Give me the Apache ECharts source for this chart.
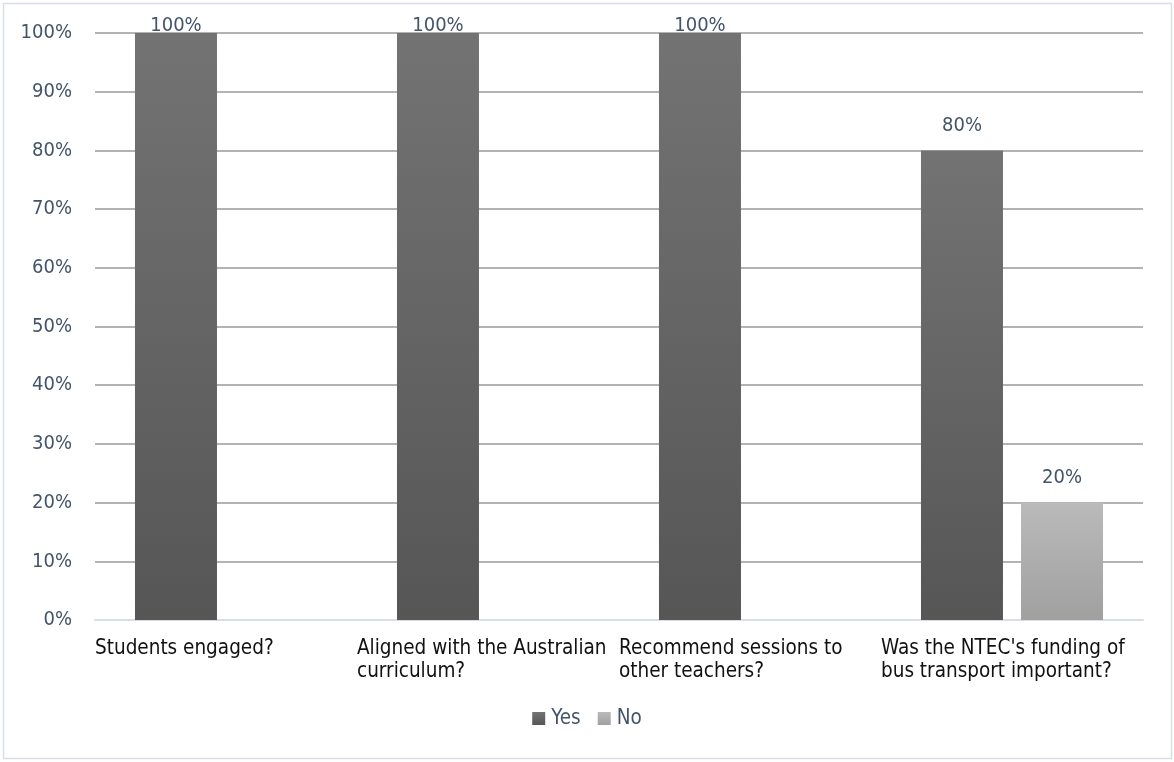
<!DOCTYPE html>
<html>
<head>
<meta charset="utf-8">
<script src="https://cdn.jsdelivr.net/npm/echarts@6/dist/echarts.min.js"></script>
<style>
html,body{margin:0;padding:0;background:#fff;}
#chart{width:1174px;height:762px;}
</style>
</head>
<body>
<div id="chart"></div>
<script>
const categories = [
  "Students engaged?",
  "Aligned with the Australian curriculum?",
  "Recommend sessions to other teachers?",
  "Was the NTEC's funding of bus transport important?"
];
const seriesNames = ["Yes", "No"];
const yesValues = [100, 100, 100, 80];
const noValues = [0, 0, 0, 20];
const yTicks = [0, 10, 20, 30, 40, 50, 60, 70, 80, 90, 100];

const FONT = "'DejaVu Sans Condensed', 'DejaVu Sans', sans-serif";
const slate = '#44546A';

const yesColor = new echarts.graphic.LinearGradient(0, 0, 0, 1, [
  {offset: 0, color: '#737373'}, {offset: 1, color: '#565656'}
]);
const noColor = new echarts.graphic.LinearGradient(0, 0, 0, 1, [
  {offset: 0, color: '#bababa'}, {offset: 1, color: '#a0a0a0'}
]);

function labelItems(arr) {
  return arr.map(v => ({
    value: v,
    label: {distance: v >= yTicks[yTicks.length - 1] ? -2.5 : 14.5}
  }));
}

// label axis: category boundaries (one more slot so labels sit at each category's left edge)
const labelSlots = categories.concat(['']);

const chart = echarts.init(document.getElementById('chart'), null, {renderer: 'canvas'});
chart.setOption({
  animation: false,
  backgroundColor: '#fff',
  textStyle: {fontFamily: FONT},
  graphic: [{
    type: 'rect', shape: {x: 3.5, y: 3.5, width: 1168, height: 755},
    style: {fill: 'none', stroke: '#d9dee6', lineWidth: 1.5}, silent: true
  }],
  grid: {left: 95, right: 31, top: 33, bottom: 142, containLabel: false, outerBoundsMode: 'none'},
  legend: {
    data: seriesNames,
    bottom: 28,
    left: 'center',
    itemWidth: 13, itemHeight: 13, itemGap: 17,
    icon: 'rect',
    textStyle: {color: slate, fontSize: 20.5, fontFamily: FONT, padding: [0, 0, 0, 1]}
  },
  xAxis: [
    {
      type: 'category',
      data: categories,
      axisLine: {lineStyle: {color: '#d9dee6', width: 2}},
      axisTick: {show: false},
      axisLabel: {show: false}
    },
    {
      type: 'category',
      position: 'bottom',
      data: labelSlots,
      boundaryGap: false,
      axisLine: {show: false},
      axisTick: {show: false},
      splitLine: {show: false},
      axisLabel: {
        interval: 0,
        margin: 17,
        color: '#111',
        fontSize: 20.5,
        fontFamily: FONT,
        lineHeight: 23,
        width: 262,
        overflow: 'break',
        align: 'left',
        verticalAlign: 'top',
        hideOverlap: false
      }
    }
  ],
  yAxis: {
    type: 'value',
    min: yTicks[0], max: yTicks[yTicks.length - 1], interval: 10,
    axisLine: {show: false},
    axisTick: {show: false},
    splitLine: {lineStyle: {color: '#b3b3b3', width: 2}},
    axisLabel: {
      color: slate, fontSize: 20, fontFamily: FONT, margin: 23,
      padding: [4, 0, 0, 0],
      formatter: v => v + '%'
    }
  },
  series: [
    {
      name: seriesNames[0], type: 'bar', data: labelItems(yesValues),
      xAxisIndex: 0,
      barWidth: 82, barGap: '22%',
      itemStyle: {color: yesColor},
      label: {show: true, position: 'top', color: slate, fontSize: 20, fontFamily: FONT,
        formatter: p => p.value > 0 ? p.value + '%' : ''}
    },
    {
      name: seriesNames[1], type: 'bar', data: labelItems(noValues),
      xAxisIndex: 0,
      barWidth: 82, barGap: '22%',
      itemStyle: {color: noColor},
      label: {show: true, position: 'top', color: slate, fontSize: 20, fontFamily: FONT,
        formatter: p => p.value > 0 ? p.value + '%' : ''}
    }
  ]
});
</script>
</body>
</html>
